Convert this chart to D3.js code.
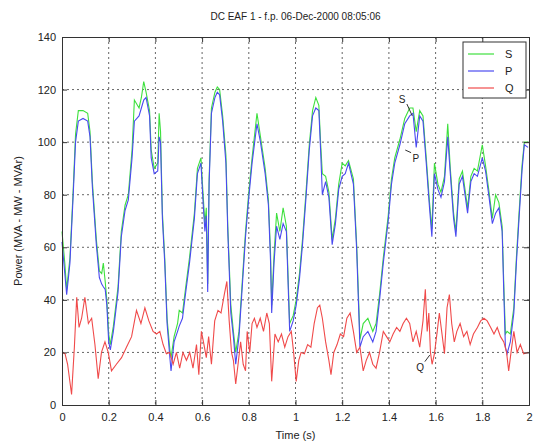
<!DOCTYPE html>
<html lang="en">
<head>
<meta charset="utf-8">
<script src="https://d3js.org/d3.v7.min.js"></script>
<style>
  body { margin: 0; background: #fff; }
  text { font-family: "Liberation Sans", Arial, sans-serif; fill: #222; }
</style>
</head>
<body>
<script>
// ---- data ----
var timeSP = [0.000,0.012,0.020,0.034,0.048,0.058,0.070,0.090,0.110,0.120,0.130,0.147,0.160,0.170,0.177,0.185,0.192,0.200,0.207,0.220,
  0.240,0.254,0.270,0.284,0.300,0.310,0.330,0.340,0.350,0.360,0.375,0.382,0.395,0.410,0.416,0.422,0.430,0.440,0.450,0.462,
  0.467,0.480,0.495,0.502,0.516,0.530,0.546,0.567,0.580,0.595,0.605,0.612,0.618,0.624,0.630,0.640,0.655,0.665,0.675,0.688,
  0.702,0.710,0.723,0.734,0.744,0.758,0.772,0.786,0.800,0.814,0.835,0.850,0.870,0.884,0.893,0.898,0.908,0.919,0.933,0.947,
  0.961,0.975,0.990,1.003,1.017,1.030,1.045,1.059,1.073,1.087,1.100,1.108,1.115,1.129,1.143,1.157,1.171,1.185,1.200,1.213,
  1.227,1.248,1.262,1.270,1.276,1.290,1.310,1.331,1.345,1.360,1.376,1.397,1.411,1.425,1.447,1.468,1.489,1.503,1.517,1.532,
  1.546,1.560,1.574,1.584,1.595,1.610,1.623,1.638,1.652,1.663,1.677,1.687,1.701,1.715,1.737,1.751,1.765,1.779,1.800,1.814,
  1.829,1.843,1.857,1.871,1.885,1.892,1.899,1.906,1.920,1.935,1.946,1.956,1.970,1.980,1.996];

var valuesP = [62,50,42,54,80,100,108,109,108,102,83,61,48.5,46,45,44,38,24,21,28,
  43,64,74,78,94,108,110,113,116,117,110,94,88,89,102,100,71,54,31,18,
  13,24,28,30,33,43,54,71,88,92,76,66,72,43,84,111,117,119,118,108,
  92,66,35,26,15.5,26,45,64,79,92,107,100,88,76,55,35,54,68,63,69,
  66,28,32,38,48,61,79,97,110,113,112,96,80,85,79,61,69,82,87,88,
  92,84,59,38,22,26,28,24,28,40,54,70,84,92,99,107,110,111,98,110,
  108,92,75,64,88,82,79,85,102,88,71,64,84,87,73,85,88,87,94,89,
  79,69,73,75,66,43,22,19.5,24,35,54,69,89,99,98];

var valuesS = [66,54,44,56,82,103,112,112,111,104,85,63,51,50,54,47,40,27,23,30,
  45,66,76,80,97,116,113,117,123,119,112,97,90,92,111,104,73,56,33,21,
  18,26,31,36,35,45,56,73,90,94,79,69,75,46,86,113,119,121,120,110,
  95,68,38,28,20,28,47,66,81,94,111,102,90,78,58,38,57,73,66,75,
  68,31,34,40,50,63,81,99,112,117,114,99,88,87,81,63,71,84,92,91,
  93,86,61,41,25,31,33,28,31,42,56,72,86,94,101,109,113,113,104,112,
  110,94,77,67,92,84,81,87,107,90,73,66,86,89,75,87,90,89,99,91,
  81,71,80,77,68,46,27,28,27,37,56,71,91,100,100];

var timeQ = [0.000,0.013,0.024,0.041,0.053,0.063,0.073,0.084,0.098,0.113,0.127,0.141,0.155,0.169,0.184,0.198,0.212,0.233,0.255,0.276,
  0.298,0.319,0.338,0.355,0.372,0.390,0.405,0.419,0.433,0.447,0.461,0.476,0.490,0.504,0.518,0.533,0.547,0.561,0.576,0.586,
  0.597,0.608,0.618,0.628,0.640,0.654,0.668,0.681,0.695,0.706,0.716,0.726,0.734,0.744,0.754,0.765,0.776,0.786,0.793,0.804,
  0.814,0.824,0.835,0.849,0.863,0.877,0.888,0.898,0.912,0.926,0.940,0.954,0.968,0.982,0.992,1.003,1.014,1.024,1.038,1.052,
  1.066,1.080,1.094,1.104,1.115,1.129,1.143,1.152,1.164,1.178,1.192,1.206,1.220,1.234,1.248,1.262,1.276,1.290,1.303,1.317,
  1.331,1.345,1.360,1.376,1.390,1.404,1.418,1.433,1.447,1.461,1.475,1.489,1.503,1.517,1.532,1.546,1.556,1.564,1.571,1.578,
  1.585,1.595,1.607,1.616,1.626,1.638,1.649,1.659,1.669,1.680,1.691,1.705,1.720,1.734,1.748,1.762,1.779,1.793,1.807,1.821,
  1.836,1.850,1.864,1.878,1.892,1.904,1.913,1.923,1.935,1.949,1.963,1.977,1.996];

var valuesQ = [20,19.5,15.5,4,22,41,29.5,33,41,31,33,23,10,20,24,20,13,15.5,18,22,
  26,36,31,37,32,28,27,28,23,19.5,20,15.5,20,14,20,17,20,14,23,11.5,
  28,23,18,26,15.5,32,36,35,42,47,32,20,17,8,15.5,24,15.5,13,28,20,
  31,33,29.5,33,28,35,31,9,27,24,27,22,26,28,20,9,17,20,19.5,23,
  22,31,37,38,33,24,17,11.5,20,23,27,26,33,35,28,20,22,13,17,20,
  15.5,14,20,28,26,24,27,29.5,28,31,33,31,24,28,22,32,44,28,35,20,
  15.5,19.5,28,35,28,19.5,37,42,31,24,28,31,26,28,23,27,29.5,32,33,32,
  29.5,27,29.5,26,24,20,13,20,28,20,23,19.5,20];

var xTicks = [0,0.2,0.4,0.6,0.8,1,1.2,1.4,1.6,1.8,2];
var yTicks = [0,20,40,60,80,100,120,140];
var seriesNames = ["S","P","Q"];
var seriesColors = ["#3de03d","#4a4af0","#f04a4a"];

var width = 535, height = 447;
var plotLeft = 62, plotTop = 37, plotRight = 529, plotBottom = 405;

var svg = d3.select('body').append('svg')
  .attr('width', width).attr('height', height);

var x = d3.scaleLinear().domain([0,2]).range([plotLeft,plotRight]);
var y = d3.scaleLinear().domain([0,140]).range([plotBottom,plotTop]);

// grid
svg.append('g').selectAll('line').data(xTicks.slice(1,-1)).join('line')
  .attr('x1', d => x(d)).attr('x2', d => x(d)).attr('y1', plotTop).attr('y2', plotBottom)
  .attr('stroke', '#666').attr('stroke-dasharray', '2,3');
svg.append('g').selectAll('line').data(yTicks.slice(1,-1)).join('line')
  .attr('y1', d => y(d)).attr('y2', d => y(d)).attr('x1', plotLeft).attr('x2', plotRight)
  .attr('stroke', '#666').attr('stroke-dasharray', '2,3');

// lines
function drawLine(ts, vs, color) {
  var line = d3.line().x(d => x(d[0])).y(d => y(d[1]));
  svg.append('path').datum(ts.map((t,i) => [t, vs[i]]))
    .attr('d', line).attr('fill', 'none')
    .attr('stroke', color).attr('stroke-width', 1.1);
}
drawLine(timeSP, valuesS, seriesColors[0]);
drawLine(timeSP, valuesP, seriesColors[1]);
drawLine(timeQ, valuesQ, seriesColors[2]);

// axes (ticks inward, MATLAB style)
svg.append('g').attr('transform', 'translate(0,' + plotBottom + ')')
  .call(d3.axisBottom(x).tickValues(xTicks).tickSize(-5).tickPadding(8).tickFormat(d3.format('')));
svg.append('g').attr('transform', 'translate(0,' + plotTop + ')')
  .call(d3.axisTop(x).tickValues(xTicks).tickSize(-5).tickFormat(''));
svg.append('g').attr('transform', 'translate(' + plotLeft + ',0)')
  .call(d3.axisLeft(y).tickValues(yTicks).tickSize(-5).tickPadding(6));
svg.append('g').attr('transform', 'translate(' + plotRight + ',0)')
  .call(d3.axisRight(y).tickValues(yTicks).tickSize(-5).tickFormat(''));
svg.selectAll('.domain').attr('stroke', '#333');
svg.selectAll('.tick line').attr('stroke', '#333');
svg.selectAll('.tick text').attr('font-size', 11).attr('fill', '#333');

// titles
svg.append('text').attr('x', (plotLeft + plotRight) / 2).attr('y', 20)
  .attr('text-anchor', 'middle').attr('font-size', 10)
  .text('DC EAF 1 - f.p. 06-Dec-2000 08:05:06');
svg.append('text').attr('x', (plotLeft + plotRight) / 2).attr('y', 439)
  .attr('text-anchor', 'middle').attr('font-size', 11).text('Time (s)');
svg.append('text').attr('transform', 'translate(22,' + ((plotTop + plotBottom) / 2) + ') rotate(-90)')
  .attr('text-anchor', 'middle').attr('font-size', 11).text('Power (MVA - MW - MVAr)');

// legend
var lg = svg.append('g').attr('transform', 'translate(463,42)');
lg.append('rect').attr('width', 63).attr('height', 56)
  .attr('fill', '#fff').attr('stroke', '#333');
seriesNames.forEach(function(n, i) {
  var yy = 12 + i * 17;
  lg.append('line').attr('x1', 5).attr('x2', 31).attr('y1', yy).attr('y2', yy)
    .attr('stroke', seriesColors[i]).attr('stroke-width', 1.2);
  lg.append('text').attr('x', 42).attr('y', yy + 4).attr('font-size', 11).text(n);
});

// curve labels: [name, curve t, curve v, label t, label v]
var notes = [["S", 1.50, 110, 1.457, 116.5], ["P", 1.47, 97, 1.515, 94], ["Q", 1.575, 19, 1.534, 14.5]];
notes.forEach(function(n) {
  svg.append('line').attr('x1', x(n[1])).attr('y1', y(n[2]))
    .attr('x2', x(n[3] + (n[3] < n[1] ? 0.02 : -0.02))).attr('y2', y(n[4] + (n[4] > n[2] ? -2 : 2)))
    .attr('stroke', '#333');
  svg.append('text').attr('x', x(n[3])).attr('y', y(n[4]) + 4)
    .attr('text-anchor', 'middle').attr('font-size', 10).text(n[0]);
});
</script>
</body>
</html>
